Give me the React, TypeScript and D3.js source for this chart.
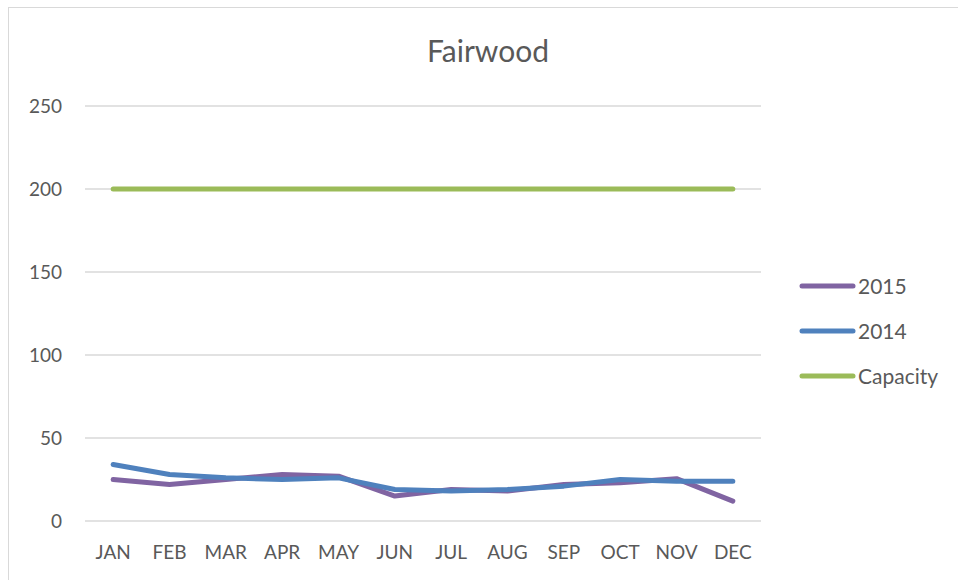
import React, { useEffect, useRef } from 'react';
import * as d3 from 'd3';

const months = ['JAN', 'FEB', 'MAR', 'APR', 'MAY', 'JUN', 'JUL', 'AUG', 'SEP', 'OCT', 'NOV', 'DEC'];
const values2015 = [25, 22, 25, 28, 27, 15, 19, 18, 22, 23, 25.5, 12];
const values2014 = [34, 28, 26, 25, 26, 19, 18, 19, 21, 25, 24, 24];
const capacity = [200, 200, 200, 200, 200, 200, 200, 200, 200, 200, 200, 200];
const yTicks = [0, 50, 100, 150, 200, 250];

const series = [
  { name: '2015', values: values2015, color: '#8064A2' },
  { name: '2014', values: values2014, color: '#4F81BD' },
  { name: 'Capacity', values: capacity, color: '#9BBB59' },
];

const W = 958;
const H = 580;
const FONT = 'Lato, "Liberation Sans", sans-serif';

const App: React.FC = () => {
  const svgRef = useRef<SVGSVGElement>(null);

  useEffect(() => {
    if (!svgRef.current) return;
    const svg = d3.select(svgRef.current);
    svg.selectAll('*').remove();

    // chart frame
    svg.append('rect')
      .attr('x', 8.5).attr('y', 7.5)
      .attr('width', W + 20).attr('height', H + 20)
      .attr('fill', '#fff').attr('stroke', '#D9D9D9');

    const left = 85, right = 761, top = 106, bottom = 521;

    const x = d3.scalePoint<string>().domain(months).range([left, right]).padding(0.5);
    const y = d3.scaleLinear().domain([0, 250]).range([bottom, top]);

    // title
    svg.append('text')
      .attr('x', (left + right) / 2 + 65).attr('y', 62)
      .attr('text-anchor', 'middle')
      .attr('font-family', FONT).attr('font-size', 30)
      .attr('fill', '#595959')
      .text('Fairwood');

    // gridlines + y labels
    const g = svg.append('g');
    g.selectAll('.grid').data(yTicks).enter().append('line')
      .attr('x1', left).attr('x2', right)
      .attr('y1', d => y(d)).attr('y2', d => y(d))
      .attr('stroke', '#D9D9D9').attr('stroke-width', 1.3);

    g.selectAll('.ylab').data(yTicks).enter().append('text')
      .attr('x', 62).attr('y', d => y(d))
      .attr('dy', '0.35em')
      .attr('text-anchor', 'end')
      .attr('font-family', FONT).attr('font-size', 19)
      .attr('fill', '#595959')
      .text(d => d);

    g.selectAll('.xlab').data(months).enter().append('text')
      .attr('x', d => x(d)!).attr('y', 559)
      .attr('text-anchor', 'middle')
      .attr('font-family', FONT).attr('font-size', 19)
      .attr('fill', '#595959')
      .text(d => d);

    const line = d3.line<number>()
      .x((_, i) => x(months[i])!)
      .y(d => y(d));

    // draw capacity first, then 2015, then 2014 on top
    [series[2], series[0], series[1]].forEach(s => {
      svg.append('path')
        .datum(s.values)
        .attr('d', line)
        .attr('fill', 'none')
        .attr('stroke', s.color)
        .attr('stroke-width', 5)
        .attr('stroke-linecap', 'round')
        .attr('stroke-linejoin', 'round');
    });

    // legend
    const lg = svg.append('g');
    series.forEach((s, i) => {
      const ly = 286 + i * 45;
      lg.append('line')
        .attr('x1', 802).attr('x2', 853)
        .attr('y1', ly).attr('y2', ly)
        .attr('stroke', s.color).attr('stroke-width', 5)
        .attr('stroke-linecap', 'round');
      lg.append('text')
        .attr('x', 858).attr('y', ly)
        .attr('dy', '0.36em')
        .attr('font-family', FONT).attr('font-size', 21)
        .attr('fill', '#595959')
        .text(s.name);
    });
  }, []);

  return (
    <div style={{ position: 'fixed', left: 0, top: 0, width: W, height: H, overflow: 'hidden' }}>
      <svg ref={svgRef} width={W} height={H} />
    </div>
  );
};

export default App;
